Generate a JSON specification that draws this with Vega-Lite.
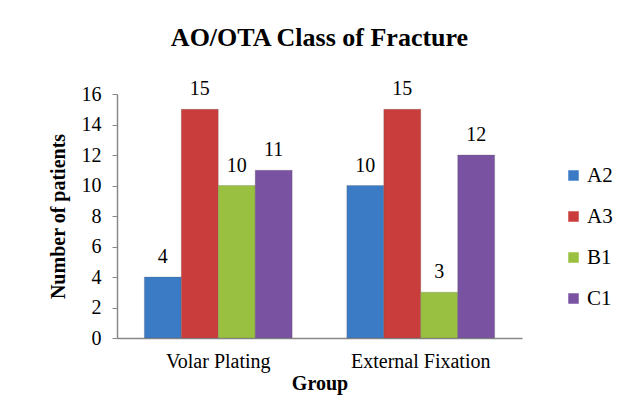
{
  "$schema": "https://vega.github.io/schema/vega-lite/v6.json",
  "autosize": "none",
  "width": 405,
  "height": 244,
  "padding": {"left": 117, "top": 94, "right": 109, "bottom": 74},
  "background": "white",
  "config": {
    "font": "Liberation Serif",
    "view": {"stroke": null},
    "text": {"font": "Liberation Serif"},
    "legend": {"labelFont": "Liberation Serif"},
    "axis": {"labelFont": "Liberation Serif", "titleFont": "Liberation Serif", "labelColor": "black", "titleColor": "black", "domainColor": "#888888", "tickColor": "#888888", "domainWidth": 1.5, "grid": false}
  },
  "title": {"text": "AO/OTA Class of Fracture", "font": "Liberation Serif", "fontSize": 26, "fontWeight": "bold", "color": "black", "anchor": "middle", "offset": 28},
  "data": {"values": [
    {"group": "Volar Plating", "cls": "A2", "n": 4},
    {"group": "Volar Plating", "cls": "A3", "n": 15},
    {"group": "Volar Plating", "cls": "B1", "n": 10},
    {"group": "Volar Plating", "cls": "C1", "n": 11},
    {"group": "External Fixation", "cls": "A2", "n": 10},
    {"group": "External Fixation", "cls": "A3", "n": 15},
    {"group": "External Fixation", "cls": "B1", "n": 3},
    {"group": "External Fixation", "cls": "C1", "n": 12}
  ]},
  "encoding": {
    "x": {"field": "group", "type": "nominal", "sort": ["Volar Plating", "External Fixation"],
      "scale": {"paddingInner": 0.27, "paddingOuter": 0.135},
      "axis": {"title": "Group", "labelAngle": 0, "ticks": false, "labelFontSize": 20, "labelPadding": 13, "titleFontSize": 20, "titleFontWeight": "bold", "titlePadding": 2}},
    "xOffset": {"field": "cls", "type": "nominal", "scale": {"paddingInner": 0, "paddingOuter": 0}},
    "y": {"field": "n", "type": "quantitative", "scale": {"domain": [0, 16]},
      "axis": {"title": "Number of patients", "values": [0, 2, 4, 6, 8, 10, 12, 14, 16], "tickSize": 5, "labelFontSize": 20, "labelPadding": 11, "titleFontSize": 20, "titleFontWeight": "bold", "titlePadding": 13}}
  },
  "layer": [
    {
      "mark": {"type": "bar", "stroke": "#555555", "strokeWidth": 0.4, "strokeOpacity": 0.6},
      "encoding": {
        "color": {"field": "cls", "type": "nominal",
          "scale": {"domain": ["A2", "A3", "B1", "C1"], "range": ["#3b7bc6", "#c93d3c", "#99c040", "#7953a1"]},
          "legend": {"title": null, "orient": "none", "legendX": 446, "legendY": 71, "symbolType": "square", "symbolSize": 110, "symbolStrokeWidth": 0, "labelFontSize": 21, "labelFont": "Liberation Serif", "labelColor": "black", "rowPadding": 19, "labelOffset": 3}}
      }
    },
    {
      "mark": {"type": "text", "baseline": "bottom", "dy": -10, "fontSize": 20, "font": "Liberation Serif", "color": "black"},
      "encoding": {"text": {"field": "n", "type": "quantitative"}}
    }
  ]
}
